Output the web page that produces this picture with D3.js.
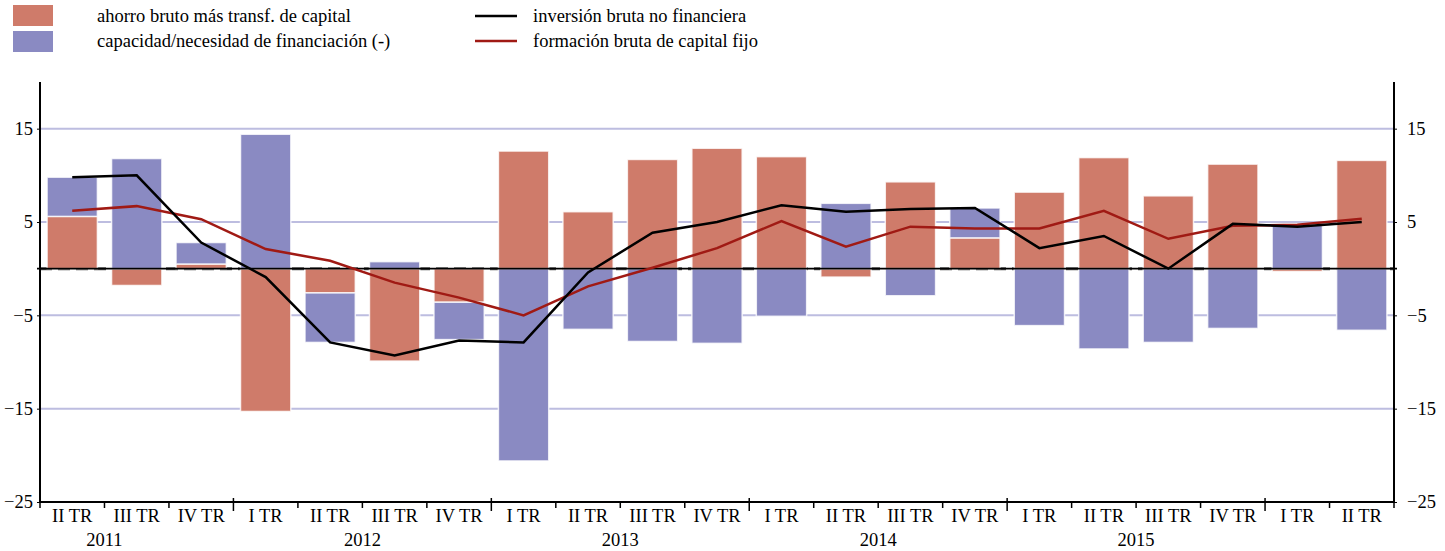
<!DOCTYPE html>
<html><head><meta charset="utf-8">
<script src="https://cdn.jsdelivr.net/npm/d3@7"></script>
<style>
body{margin:0;background:#fff}
svg{display:block}
svg text{font-family:"Liberation Serif","Times New Roman",serif !important}
</style></head>
<body><svg id="c" width="1445" height="551"></svg>
<script>
const quarters = ["II TR","III TR","IV TR","I TR","II TR","III TR","IV TR","I TR","II TR","III TR","IV TR","I TR","II TR","III TR","IV TR","I TR","II TR","III TR","IV TR","I TR","II TR"];
const quarterYears = [2011,2011,2011,2012,2012,2012,2012,2013,2013,2013,2013,2014,2014,2014,2014,2015,2015,2015,2015,2016,2016];
const yearLabels = ["2011","2012","2013","2014","2015"];
const ahorro = [5.6,-1.8,0.5,-15.3,-2.6,-9.9,-3.6,12.6,6.1,11.7,12.9,12.0,-0.9,9.3,3.3,8.2,11.9,7.8,11.2,-0.3,11.6];
const capacidad = [4.2,11.8,2.3,14.4,-5.3,0.75,-4.0,-20.6,-6.5,-7.8,-8.0,-5.1,7.0,-2.9,3.2,-6.1,-8.6,-7.9,-6.4,4.7,-6.6];
const inversion = [9.8,10.0,2.8,-0.9,-7.9,-9.3,-7.7,-7.9,-0.4,3.85,5.0,6.8,6.1,6.4,6.5,2.2,3.5,0.0,4.8,4.5,5.0];
const fbcf = [6.2,6.7,5.3,2.1,0.85,-1.5,-3.1,-5.0,-1.9,0.1,2.2,5.1,2.35,4.5,4.3,4.3,6.2,3.2,4.6,4.7,5.35];
const yTicks = [15,5,-5,-15,-25];
const seriesNames = ["ahorro bruto más transf. de capital","capacidad/necesidad de financiación (-)","inversión bruta no financiera","formación bruta de capital fijo"];
const colors = ["#CF7B6A","#8A8AC2","#000000","#A01A14"];

const FONT = "Liberation Serif, Times New Roman, serif";
const FS = 18.5;
const svg = d3.select("#c").attr("font-family",FONT);
const L = 40, R = 1394, T = 82, B = 502;
const ids = quarters.map((q,i)=>i);
const x = d3.scaleBand().domain(ids).range([L,R]).paddingInner(0.22).paddingOuter(0.11);
const y = d3.scaleLinear().domain([-25,20]).range([B,T]);
const step = x.step();

// gridlines
svg.append("g").selectAll("line").data([15,5,-5,-15]).join("line")
  .attr("x1",L).attr("x2",R).attr("y1",d=>y(d)).attr("y2",d=>y(d))
  .attr("stroke","#BDBDE0").attr("stroke-width",2);
// dashed zero behind bars
svg.append("line").attr("x1",L).attr("x2",R).attr("y1",y(0)).attr("y2",y(0))
  .attr("stroke","#555").attr("stroke-width",3).attr("stroke-dasharray","12,6");

// stacked bars
const table = ids.map(i=>({i, a:ahorro[i], c:capacidad[i]}));
const stack = d3.stack().keys(["a","c"]).offset(d3.stackOffsetDiverging)(table);
svg.append("g").selectAll("g").data(stack).join("g")
  .attr("fill",(d,k)=>colors[k])
  .selectAll("rect").data(d=>d).join("rect")
  .attr("x",d=>x(d.data.i)).attr("width",x.bandwidth())
  .attr("y",d=>y(Math.max(d[0],d[1]))).attr("height",d=>Math.abs(y(d[0])-y(d[1])))
  .attr("stroke","#fff").attr("stroke-width",1.5).attr("stroke-opacity",0.8);

// zero line on top
svg.append("line").attr("x1",L-3).attr("x2",R+3).attr("y1",y(0)).attr("y2",y(0))
  .attr("stroke","#000").attr("stroke-width",1.6);

// lines
const line = d3.line().x((d,i)=>x(i)+x.bandwidth()/2).y(d=>y(d));
svg.append("path").datum(fbcf).attr("d",line).attr("fill","none").attr("stroke",colors[3]).attr("stroke-width",2.5);
svg.append("path").datum(inversion).attr("d",line).attr("fill","none").attr("stroke",colors[2]).attr("stroke-width",2.5);

// axes
const yl = d3.axisLeft(y).tickValues(yTicks).tickSize(3).tickFormat(d3.format("d"));
const yr = d3.axisRight(y).tickValues(yTicks).tickSize(3).tickFormat(d3.format("d"));
const gl = svg.append("g").attr("transform",`translate(${L},0)`).call(yl);
const gr = svg.append("g").attr("transform",`translate(${R},0)`).call(yr);
[gl,gr].forEach(g=>{
  g.attr("font-family",FONT).attr("font-size",FS);
  g.select(".domain").attr("stroke","#000").attr("stroke-width",2).attr("d",`M0,${T}V${B}`);
  g.selectAll("text").attr("fill","#000");
  g.selectAll(".tick line").attr("stroke","#000");
});
gl.selectAll("text").attr("x",-7);
gr.selectAll("text").attr("x",13);

// x axis
const off = (R-L-21*step)/2;
svg.append("line").attr("x1",L).attr("x2",R).attr("y1",B).attr("y2",B).attr("stroke","#000").attr("stroke-width",2);
const bounds = d3.range(0,22);
const isYear = d => d>0 && d<21 && quarters[d]==="I TR";
svg.append("g").selectAll("line").data(bounds).join("line")
  .attr("x1",d=>L+off+d*step).attr("x2",d=>L+off+d*step)
  .attr("y1",d=>isYear(d)? B-4 : B)
  .attr("y2",d=>isYear(d)? B+9 : B+6)
  .attr("stroke","#000").attr("stroke-width",1.5);
svg.append("g").attr("font-size",FS).attr("font-family",FONT).selectAll("text").data(ids).join("text")
  .attr("x",i=>x(i)+x.bandwidth()/2).attr("y",522)
  .attr("text-anchor","middle").text(i=>quarters[i]);
svg.append("g").attr("font-size",FS).attr("font-family",FONT).selectAll("text").data(yearLabels).join("text")
  .attr("x",yy=>{const i = quarterYears.indexOf(+yy); const idxII = quarters.indexOf("II TR", i); return x(idxII)+x.bandwidth()/2+step/2;})
  .attr("y",546).attr("text-anchor","middle").text(d=>d);

// legend
const leg = svg.append("g").attr("font-size",FS).attr("font-family",FONT);
[0,1].forEach(k=>{
  leg.append("rect").attr("x",13).attr("y",5+k*26).attr("width",40).attr("height",21).attr("fill",colors[k]);
  leg.append("text").attr("x",97).attr("y",22+k*25).text(seriesNames[k]);
});
[2,3].forEach((k,j)=>{
  leg.append("line").attr("x1",475).attr("x2",517).attr("y1",16+j*25).attr("y2",16+j*25).attr("stroke",colors[k]).attr("stroke-width",2.5);
  leg.append("text").attr("x",533).attr("y",22+j*25).text(seriesNames[k]);
});
</script></body></html>
